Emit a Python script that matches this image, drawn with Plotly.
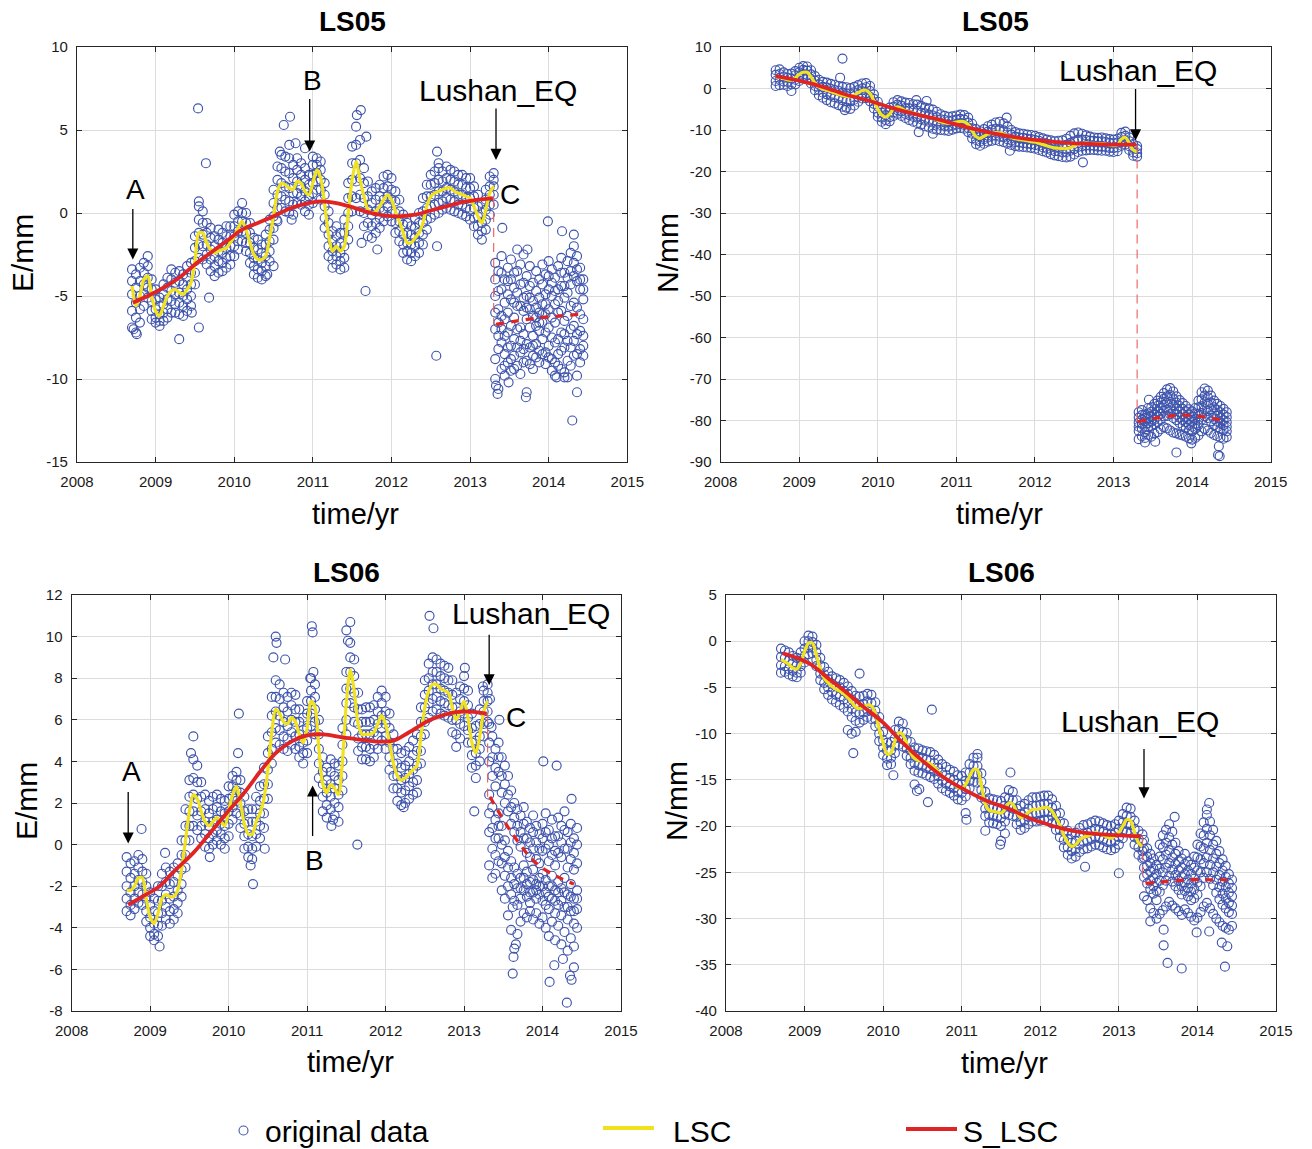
import plotly.graph_objects as go

W, H = 1312, 1149
FONT = "Liberation Sans, Arial, Helvetica, sans-serif"
BLUE = "rgb(62,84,172)"
YELLOW = "rgb(240,226,30)"
RED = "rgb(224,36,36)"
LIGHTRED = "rgba(236,96,96,0.95)"

# ---------------- shared epochs ----------------
t_pre = [2008.70, 2008.75, 2008.80, 2008.85, 2008.90, 2008.95, 2009.00, 2009.05, 2009.10, 2009.15,
         2009.20, 2009.25, 2009.30, 2009.35, 2009.40, 2009.45, 2009.50, 2009.55, 2009.60, 2009.65,
         2009.70, 2009.75, 2009.80, 2009.85, 2009.90, 2009.95, 2010.00, 2010.05, 2010.10, 2010.15,
         2010.20, 2010.25, 2010.30, 2010.35, 2010.40, 2010.45, 2010.50, 2010.55, 2010.60, 2010.65,
         2010.70, 2010.75, 2010.80, 2010.85, 2010.90, 2010.95, 2011.00, 2011.05, 2011.10, 2011.15,
         2011.20, 2011.25, 2011.30, 2011.35, 2011.40, 2011.45, 2011.50, 2011.55, 2011.60, 2011.65,
         2011.70, 2011.75, 2011.80, 2011.85, 2011.90, 2011.95, 2012.00, 2012.05, 2012.10, 2012.15,
         2012.20, 2012.25, 2012.30, 2012.35, 2012.40, 2012.45, 2012.50, 2012.55, 2012.60, 2012.65,
         2012.70, 2012.75, 2012.80, 2012.85, 2012.90, 2012.95, 2013.00, 2013.05, 2013.10, 2013.15,
         2013.20, 2013.25, 2013.30]
t_post = [2013.32, 2013.36, 2013.40, 2013.44, 2013.48, 2013.52, 2013.56, 2013.60, 2013.64, 2013.68,
          2013.72, 2013.76, 2013.80, 2013.84, 2013.88, 2013.92, 2013.96, 2014.00, 2014.04, 2014.08,
          2014.12, 2014.16, 2014.20, 2014.24, 2014.28, 2014.32, 2014.36, 2014.40, 2014.44]
t_eq = 2013.30
x_ticks = [2008, 2009, 2010, 2011, 2012, 2013, 2014, 2015]

# ---------------- LS05 E ----------------
e05_lsc = [-4.4, -5.6, -5.0, -4.0, -3.8, -5.0, -5.9, -6.2, -5.6, -5.0,
           -4.7, -4.6, -4.8, -4.9, -4.6, -4.2, -2.9, -1.2, -1.2, -1.8,
           -2.2, -2.4, -2.3, -2.2, -2.1, -1.8, -1.4, -0.9, -0.5, -1.0,
           -1.8, -2.5, -2.8, -2.8, -2.6, -1.5, -0.2, 1.3, 1.8, 1.7,
           1.5, 1.4, 1.9, 1.8, 1.3, 1.1, 1.8, 2.6, 2.1, 0.5,
           -1.3, -2.3, -2.0, -2.3, -2.0, 0.0, 2.0, 3.1, 2.0, 1.0,
           0.2, 0.0, 0.1, 0.4, 0.8, 1.1, 0.8, 0.1, -0.5, -1.2,
           -1.8, -1.8, -1.5, -1.2, -0.6, 0.4, 1.0, 1.2, 1.3, 1.4,
           1.5, 1.5, 1.3, 1.2, 1.1, 1.0, 0.9, 0.4, -0.2, -0.6,
           0.2, 1.2, 1.6]
e05_pre = [[-3.4, -4.1, -4.9, -5.9, -6.9], [-3.7, -4.5, -5.4, -6.3, -7.2], [-3.3, -4.1, -5.0, -5.8, -6.6],
           [-3.0, -3.6, -4.3, -4.9, -5.6], [-2.6, -3.2, -3.9, -4.5, -5.1], [-4.0, -4.6, -5.3, -5.9, -6.4],
           [-4.6, -5.2, -5.8, -6.3, -6.6], [-5.1, -5.6, -6.1, -6.5, -6.8], [-4.3, -4.9, -5.5, -6.0, -6.5],
           [-3.9, -4.5, -5.2, -5.8, -6.3], [-3.4, -4.0, -4.7, -5.3, -6.0], [-3.6, -4.2, -4.9, -5.5, -6.0],
           [-3.5, -4.1, -4.8, -5.4, -6.1], [-3.7, -4.3, -5.0, -5.6, -6.2], [-3.2, -3.9, -4.6, -5.2, -5.9],
           [-3.0, -3.6, -4.3, -5.0, -5.6], [-1.4, -2.1, -2.9, -3.6, -4.3], [0.4, -0.4, -1.2, -1.9, -2.7],
           [0.1, -0.6, -1.3, -2.0, -2.8], [-0.6, -1.2, -1.9, -2.5, -3.1], [-0.9, -1.5, -2.2, -2.8, -3.5],
           [-1.4, -2.0, -2.6, -3.2, -3.8], [-1.0, -1.6, -2.3, -2.9, -3.6], [-1.2, -1.8, -2.4, -3.0, -3.5],
           [-0.8, -1.4, -2.1, -2.7, -3.3], [-0.8, -1.4, -2.0, -2.6, -3.1], [-0.1, -0.8, -1.4, -2.0, -2.6],
           [0.1, -0.5, -1.1, -1.7, -2.2], [0.6, 0.0, -0.5, -1.1, -1.7], [0.0, -0.6, -1.2, -1.8, -2.3],
           [-0.6, -1.2, -1.8, -2.4, -3.0], [-1.5, -2.1, -2.7, -3.2, -3.7], [-1.6, -2.2, -2.8, -3.4, -3.9],
           [-1.9, -2.4, -3.0, -3.5, -4.0], [-1.3, -1.9, -2.6, -3.2, -3.8], [-0.4, -1.0, -1.7, -2.3, -2.9],
           [1.4, 0.6, -0.2, -0.9, -1.6], [2.8, 2.0, 1.1, 0.3, -0.5], [3.5, 2.7, 1.8, 1.0, 0.3],
           [3.4, 2.5, 1.6, 0.8, 0.1], [3.3, 2.4, 1.5, 0.7, 0.0], [2.9, 2.1, 1.2, 0.5, -0.1],
           [3.3, 2.6, 1.9, 1.2, 0.6], [3.0, 2.3, 1.6, 1.0, 0.5], [2.7, 2.0, 1.3, 0.7, 0.1],
           [2.3, 1.7, 1.0, 0.5, -0.1], [2.9, 2.3, 1.8, 1.2, 0.6], [3.3, 2.9, 2.4, 1.9, 1.4],
           [3.1, 2.6, 2.0, 1.4, 0.8], [1.8, 1.1, 0.4, -0.3, -0.9], [0.1, -0.6, -1.3, -2.0, -2.6],
           [-1.1, -1.7, -2.3, -2.8, -3.3], [-0.8, -1.4, -2.0, -2.6, -3.1], [-1.2, -1.8, -2.4, -2.9, -3.4],
           [-0.4, -1.2, -2.0, -2.7, -3.3], [1.8, 0.9, 0.0, -0.8, -1.6], [4.0, 3.0, 2.0, 1.0, 0.1],
           [5.2, 4.1, 3.0, 1.9, 0.9], [4.4, 3.2, 2.1, 1.1, 0.1], [2.7, 1.8, 0.9, 0.0, -0.8],
           [1.9, 1.0, 0.2, -0.6, -1.4], [1.3, 0.6, -0.1, -0.8, -1.5], [1.5, 0.8, 0.1, -0.6, -1.2],
           [1.7, 1.0, 0.3, -0.3, -0.9], [2.2, 1.5, 0.8, 0.1, -0.5], [2.3, 1.6, 1.0, 0.4, -0.2],
           [2.1, 1.4, 0.8, 0.1, -0.5], [1.3, 0.7, 0.0, -0.6, -1.2], [0.8, 0.1, -0.5, -1.1, -1.7],
           [-0.1, -0.7, -1.3, -1.9, -2.4], [-0.6, -1.2, -1.8, -2.3, -2.8], [-0.8, -1.3, -1.9, -2.4, -2.9],
           [-0.3, -0.9, -1.5, -2.0, -2.6], [0.0, -0.6, -1.2, -1.8, -2.4], [0.9, 0.1, -0.6, -1.3, -1.9],
           [1.7, 1.0, 0.3, -0.4, -1.0], [2.3, 1.7, 1.0, 0.4, -0.3], [2.5, 1.8, 1.1, 0.5, -0.1],
           [2.7, 2.0, 1.3, 0.6, 0.0], [2.5, 1.9, 1.3, 0.7, 0.2], [2.8, 2.1, 1.5, 0.9, 0.3],
           [2.6, 2.0, 1.4, 0.8, 0.2], [2.5, 1.9, 1.3, 0.7, 0.1], [2.3, 1.7, 1.1, 0.5, 0.0],
           [2.3, 1.7, 1.1, 0.5, -0.1], [2.1, 1.5, 0.9, 0.3, -0.2], [2.1, 1.5, 0.9, 0.2, -0.4],
           [1.6, 1.0, 0.3, -0.3, -0.8], [1.1, 0.4, -0.2, -0.8, -1.3], [0.6, 0.0, -0.6, -1.1, -1.6],
           [1.4, 0.8, 0.2, -0.4, -1.0], [2.2, 1.6, 1.1, 0.5, -0.1], [2.4, 2.0, 1.6, 1.1, 0.5]]
e05_post = [[-3.0, -4.0, -5.0, -6.0, -7.0, -8.8, -10.0], [-3.5, -4.7, -5.8, -6.6, -7.4, -8.2, -10.6],
            [-2.6, -3.6, -4.6, -6.2, -7.0, -7.8, -9.4], [-4.0, -5.4, -6.4, -7.4, -8.5, -9.2, -9.8],
            [-3.3, -4.1, -4.9, -6.0, -7.2, -8.1, -9.0], [-2.8, -4.0, -5.2, -6.8, -8.0, -8.8, -9.5],
            [-3.6, -4.5, -5.4, -6.3, -7.6, -8.6, -9.4], [-2.2, -3.5, -4.8, -5.6, -7.0, -8.1, -9.2],
            [-3.1, -4.3, -5.6, -6.9, -7.7, -8.4, -9.7], [-2.5, -4.2, -5.1, -5.9, -7.3, -8.2, -9.0],
            [-3.8, -5.0, -5.7, -6.4, -7.9, -8.9, -10.8], [-3.2, -4.4, -5.1, -5.8, -6.9, -8.1, -9.1],
            [-4.2, -5.3, -6.2, -7.4, -8.0, -8.6, -9.4], [-3.5, -4.7, -5.7, -6.3, -6.8, -7.9, -8.7],
            [-4.0, -5.1, -6.0, -6.6, -7.1, -8.3, -9.0], [-3.1, -4.3, -5.5, -6.1, -6.6, -7.6, -8.5],
            [-3.7, -4.9, -5.5, -6.1, -7.2, -8.4, -9.1], [-2.9, -3.8, -4.6, -5.8, -6.9, -8.0, -8.7],
            [-3.4, -4.2, -5.0, -6.3, -7.5, -8.8, -9.5], [-3.9, -4.7, -5.5, -6.6, -7.8, -9.0, -9.8],
            [-3.2, -4.6, -5.3, -6.0, -7.6, -8.5, -9.2], [-2.7, -3.6, -4.4, -5.9, -7.2, -8.3, -9.4],
            [-3.6, -4.4, -5.1, -6.5, -7.3, -8.1, -9.6], [-2.9, -3.9, -4.8, -6.2, -7.7, -8.9, -9.9],
            [-2.4, -3.5, -4.3, -5.6, -7.0, -8.1, -9.2], [-2.0, -3.0, -3.8, -5.4, -6.8, -7.7, -8.6],
            [-2.6, -3.4, -4.1, -5.7, -7.3, -8.5, -9.8], [-3.3, -4.0, -4.6, -6.1, -7.1, -8.2, -9.0],
            [-4.0, -4.6, -5.2, -6.4, -7.4, -8.0, -8.6]]
e05_out_t = [2008.72, 2008.76, 2009.30, 2009.46, 2009.55, 2009.68, 2009.54, 2009.64, 2009.55, 2010.63,
             2010.71, 2010.70, 2010.58, 2010.54, 2010.73, 2010.42, 2010.50, 2011.61, 2011.56, 2011.68,
             2012.58, 2012.60, 2011.62, 2011.82, 2011.67, 2012.58, 2012.57, 2010.90, 2010.78, 2011.00,
             2013.41, 2013.99, 2014.17, 2014.32, 2013.73, 2014.30, 2014.36, 2013.49, 2013.71, 2013.35,
             2013.33, 2014.10, 2014.20]
e05_out_v = [-7.0, -7.3, -7.6, -6.0, -6.9, -5.1, 6.3, 3.0, 0.7, 5.3,
             5.8, 4.1, 3.7, -0.4, -0.4, -3.7, -3.2, 6.2, 5.9, 4.6,
             3.7, 3.0, -1.8, -2.2, -4.7, -2.0, -8.6, 3.9, 4.2, 3.4,
             -0.9, -0.5, -1.1, -1.3, -2.2, -12.5, -10.8, -10.2, -11.1, -10.9,
             -10.4, -9.9, -9.9]
e05_slsc_t = [2008.71, 2008.90, 2009.10, 2009.30, 2009.50, 2009.70, 2009.90, 2010.10, 2010.30, 2010.50,
              2010.70, 2010.90, 2011.10, 2011.30, 2011.50, 2011.70, 2011.90, 2012.10, 2012.30, 2012.50,
              2012.70, 2012.90, 2013.10, 2013.29]
e05_slsc_v = [-5.4, -5.0, -4.5, -3.9, -3.1, -2.4, -1.7, -1.0, -0.6, -0.2,
              0.25, 0.55, 0.7, 0.6, 0.35, 0.05, -0.15, -0.2, -0.1, 0.15,
              0.4, 0.65, 0.8, 0.9]
e05_spost_t = [2013.33, 2013.60, 2013.90, 2014.15, 2014.40]
e05_spost_v = [-6.7, -6.5, -6.3, -6.2, -6.1]
e05_yticks = [-15, -10, -5, 0, 5, 10]

# ---------------- LS05 N ----------------
n05_lsc = [2.8, 2.7, 2.4, 2.1, 2.0, 2.6, 3.4, 3.9, 3.9, 2.8,
           1.3, 0.4, -0.1, -0.4, -0.7, -1.1, -1.4, -1.7, -1.9, -2.0,
           -1.6, -1.0, -0.5, -0.4, -1.2, -3.0, -5.0, -6.4, -6.9, -6.2,
           -4.9, -4.4, -4.8, -5.3, -5.6, -5.9, -6.2, -6.5, -6.8, -7.0,
           -7.2, -7.6, -8.0, -8.3, -8.4, -8.3, -8.1, -7.9, -8.0, -8.7,
           -10.2, -11.6, -12.0, -11.5, -11.0, -10.7, -10.6, -10.7, -10.9, -11.3,
           -11.8, -12.1, -12.3, -12.4, -12.6, -12.8, -12.9, -13.2, -13.5, -13.8,
           -14.1, -14.3, -14.4, -14.5, -14.5, -14.3, -13.8, -13.4, -13.2, -13.1,
           -13.2, -13.2, -13.3, -13.3, -13.4, -13.6, -13.8, -13.6, -12.2, -11.8,
           -13.2, -14.8, -15.3]
n05_pre = [[4.4, 3.3, 1.8, 0.6], [4.6, 3.5, 2.1, 0.8], [3.9, 2.9, 1.7, 0.9], [3.5, 2.6, 1.6, 0.6],
           [3.6, 2.4, 1.0, -0.6], [4.2, 3.2, 2.1, 1.0], [5.0, 3.9, 2.8, 1.8], [5.4, 4.5, 3.4, 2.4],
           [5.3, 4.3, 3.2, 2.3], [4.4, 3.4, 2.2, 1.2], [3.0, 1.9, 0.6, -0.4], [2.1, 1.0, -0.3, -1.6],
           [1.6, 0.4, -1.0, -2.2], [1.4, 0.2, -1.4, -2.8], [1.1, -0.1, -1.7, -3.3], [0.9, -0.4, -2.1, -3.6],
           [0.6, -0.6, -2.4, -4.0], [0.4, -1.0, -2.8, -4.4], [0.3, -1.2, -3.0, -4.6], [0.1, -1.2, -3.1, -4.9],
           [0.4, -0.9, -2.7, -4.1], [0.8, -0.4, -2.0, -3.2], [1.2, 0.0, -1.4, -2.4], [1.3, 0.3, -1.1, -2.3],
           [0.6, -0.6, -2.0, -3.1], [-1.4, -2.5, -3.7, -4.8], [-3.2, -4.4, -5.8, -6.8], [-4.8, -5.8, -7.0, -8.0],
           [-5.2, -6.4, -7.6, -8.6], [-4.6, -5.6, -6.9, -7.9], [-3.3, -4.4, -5.7, -6.6], [-2.8, -3.9, -5.2, -6.1],
           [-3.1, -4.2, -5.5, -6.6], [-3.4, -4.7, -6.1, -7.1], [-3.5, -4.8, -6.4, -7.6], [-3.8, -5.2, -6.8, -8.0],
           [-3.9, -5.4, -7.0, -8.3], [-4.2, -5.8, -7.4, -8.7], [-4.6, -6.0, -7.7, -9.1], [-4.8, -6.3, -8.0, -9.4],
           [-5.1, -6.5, -8.2, -9.7], [-5.6, -6.9, -8.5, -9.9], [-6.2, -7.4, -8.8, -10.0], [-6.6, -7.6, -9.0, -10.1],
           [-6.8, -7.9, -9.2, -10.2], [-6.7, -7.7, -8.9, -9.9], [-6.5, -7.5, -8.7, -9.6], [-6.3, -7.3, -8.5, -9.5],
           [-6.4, -7.5, -8.8, -9.7], [-7.0, -8.2, -9.5, -10.5], [-8.5, -9.6, -10.9, -12.0], [-9.8, -11.0, -12.4, -13.4],
           [-10.3, -11.5, -12.8, -13.8], [-9.8, -10.9, -12.2, -13.3], [-9.1, -10.4, -11.8, -12.8], [-8.7, -9.9, -11.4, -12.6],
           [-8.2, -9.7, -11.3, -12.4], [-8.0, -9.8, -11.6, -12.7], [-8.4, -10.1, -11.7, -12.9], [-9.2, -10.6, -12.2, -13.3],
           [-10.0, -11.1, -12.5, -13.6], [-10.5, -11.6, -12.9, -13.9], [-10.8, -11.8, -13.0, -14.0], [-10.9, -11.9, -13.2, -14.1],
           [-11.1, -12.1, -13.3, -14.2], [-11.2, -12.2, -13.4, -14.3], [-11.4, -12.4, -13.6, -14.5], [-11.7, -12.6, -13.8, -14.8],
           [-12.0, -13.0, -14.2, -15.1], [-12.3, -13.3, -14.5, -15.4], [-12.5, -13.5, -14.8, -15.8], [-12.7, -13.8, -15.1, -16.1],
           [-12.6, -13.7, -15.1, -16.3], [-12.5, -13.9, -15.4, -16.5], [-12.1, -13.6, -15.3, -16.6], [-11.4, -13.1, -15.0, -16.4],
           [-10.8, -12.7, -14.6, -15.9], [-10.6, -12.3, -14.1, -15.3], [-10.9, -12.3, -13.9, -15.0], [-11.3, -12.4, -13.7, -14.9],
           [-11.6, -12.6, -13.8, -14.8], [-11.8, -12.6, -13.8, -14.8], [-11.9, -12.8, -14.0, -14.9], [-11.8, -12.7, -14.0, -15.0],
           [-12.0, -12.9, -14.1, -15.0], [-12.2, -13.1, -14.3, -15.2], [-12.3, -13.2, -14.4, -15.3], [-12.1, -13.0, -14.2, -15.1],
           [-10.7, -11.7, -12.9, -13.8], [-10.4, -11.4, -12.6, -13.5], [-11.8, -12.7, -13.9, -14.8], [-13.4, -14.3, -15.4, -16.2],
           [-13.9, -14.6, -15.6, -16.4]]
n05_post = [[-78.0, -79.3, -80.5, -81.5, -82.5, -84.5], [-77.5, -78.7, -79.8, -80.9, -81.9, -83.8],
            [-78.6, -79.4, -80.2, -81.5, -82.8, -84.2], [-77.0, -78.3, -79.5, -80.6, -81.6, -83.5],
            [-76.8, -77.9, -79.0, -80.2, -81.3, -83.9], [-76.0, -77.3, -78.6, -79.8, -80.9, -83.2],
            [-75.2, -76.5, -77.8, -79.1, -80.4, -82.8], [-74.3, -75.7, -77.0, -78.4, -79.8, -82.1],
            [-73.4, -74.8, -76.2, -77.6, -79.0, -81.6], [-72.5, -74.2, -75.8, -77.4, -78.9, -81.9],
            [-72.2, -73.9, -75.5, -77.0, -78.5, -82.4], [-73.0, -74.7, -76.3, -77.9, -79.4, -82.9],
            [-74.2, -75.7, -77.2, -78.6, -79.9, -83.1], [-75.1, -76.5, -77.9, -79.3, -80.6, -83.4],
            [-75.8, -77.2, -78.5, -79.9, -81.2, -83.6], [-76.5, -77.8, -79.1, -80.4, -81.7, -83.9],
            [-77.3, -78.6, -79.8, -81.1, -82.3, -84.3], [-77.8, -79.1, -80.3, -81.5, -82.6, -84.6],
            [-77.0, -78.3, -79.6, -80.8, -82.0, -84.2], [-75.2, -76.8, -78.4, -79.8, -81.1, -83.6],
            [-73.2, -74.9, -76.6, -78.2, -79.8, -82.6], [-72.3, -74.0, -75.6, -77.3, -79.0, -82.0],
            [-72.8, -74.4, -76.0, -77.7, -79.4, -82.4], [-74.0, -75.7, -77.3, -78.8, -80.2, -83.0],
            [-75.2, -76.8, -78.3, -79.7, -81.1, -83.5], [-76.0, -77.5, -78.9, -80.3, -81.6, -83.8],
            [-76.5, -78.0, -79.4, -80.7, -82.0, -84.1], [-77.2, -78.6, -79.9, -81.1, -82.3, -84.4],
            [-78.0, -79.2, -80.4, -81.5, -82.6, -84.0]]
n05_out_t = [2009.55, 2009.52, 2010.70, 2010.49, 2011.68, 2012.61, 2011.64, 2010.62, 2010.52, 2009.58,
             2013.80, 2014.33, 2014.35, 2014.34, 2013.99, 2013.53, 2013.40, 2013.45]
n05_out_v = [7.2, 2.6, -10.9, -2.8, -15.0, -17.8, -7.0, -3.0, -10.5, -5.2,
             -87.7, -88.3, -88.6, -86.2, -85.5, -85.1, -85.3, -75.0]
n05_slsc_t = [2008.70, 2009.00, 2009.30, 2009.60, 2009.90, 2010.20, 2010.50, 2010.80, 2011.10, 2011.40,
              2011.70, 2012.00, 2012.30, 2012.60, 2012.90, 2013.29]
n05_slsc_v = [3.0, 1.9, 0.4, -1.5, -3.0, -4.8, -6.3, -7.6, -9.2, -10.5,
              -11.6, -12.4, -13.0, -13.3, -13.5, -13.5]
n05_spost_t = [2013.31, 2013.55, 2013.85, 2014.10, 2014.40]
n05_spost_v = [-80.3, -79.4, -78.7, -79.0, -80.0]
n05_yticks = [-90, -80, -70, -60, -50, -40, -30, -20, -10, 0, 10]

# ---------------- LS06 E ----------------
e06_lsc = [-2.2, -2.2, -2.0, -1.6, -1.6, -2.6, -3.5, -3.8, -3.3, -2.6,
           -2.4, -2.5, -2.5, -2.2, -1.2, 0.2, 1.6, 2.4, 2.2, 1.6,
           1.1, 0.9, 1.1, 1.3, 1.1, 0.9, 1.6, 2.4, 2.8, 2.0,
           1.0, 0.5, 0.5, 1.1, 1.5, 2.2, 3.6, 5.4, 6.5, 6.3,
           5.9, 5.8, 6.1, 5.9, 5.3, 4.9, 5.6, 6.9, 6.6, 4.6,
           2.9, 2.5, 2.9, 2.7, 2.4, 4.0, 6.8, 8.4, 7.4, 5.8,
           5.3, 5.3, 5.3, 5.4, 5.8, 6.2, 5.8, 4.9, 3.9, 3.3,
           3.1, 3.2, 3.4, 3.6, 3.8, 5.2, 6.6, 7.4, 7.7, 7.7,
           7.5, 7.4, 7.3, 6.6, 6.0, 6.4, 6.9, 6.1, 4.9, 4.4,
           5.2, 6.4, 6.9]
e06_pre = [[-0.6, -1.3, -2.0, -2.6, -3.2], [-0.9, -1.6, -2.3, -2.9, -3.4], [-0.8, -1.4, -2.0, -2.6, -3.1],
           [-0.5, -1.1, -1.7, -2.3, -2.8], [-0.7, -1.3, -1.8, -2.4, -2.9], [-1.4, -2.0, -2.6, -3.2, -3.7],
           [-2.3, -2.9, -3.5, -4.0, -4.4], [-2.6, -3.2, -3.8, -4.3, -4.6], [-2.0, -2.7, -3.3, -3.9, -4.4],
           [-1.4, -2.0, -2.7, -3.3, -3.9], [-1.1, -1.8, -2.4, -3.0, -3.6], [-1.3, -1.9, -2.6, -3.2, -3.8],
           [-1.1, -1.8, -2.5, -3.1, -3.6], [-0.9, -1.5, -2.2, -2.8, -3.3], [0.2, -0.5, -1.2, -1.9, -2.5],
           [1.7, 0.9, 0.2, -0.5, -1.1], [3.1, 2.3, 1.6, 0.9, 0.2], [4.1, 3.2, 2.4, 1.6, 0.9],
           [3.8, 3.0, 2.2, 1.4, 0.7], [3.0, 2.3, 1.6, 0.9, 0.3], [2.4, 1.7, 1.1, 0.5, -0.1],
           [2.1, 1.5, 0.9, 0.3, -0.2], [2.3, 1.7, 1.1, 0.5, 0.0], [2.4, 1.8, 1.2, 0.7, 0.2],
           [2.2, 1.6, 1.0, 0.5, 0.0], [2.1, 1.5, 0.9, 0.3, -0.2], [2.8, 2.2, 1.6, 1.0, 0.4],
           [3.3, 2.8, 2.3, 1.8, 1.2], [3.5, 3.1, 2.6, 2.1, 1.5], [3.1, 2.5, 2.0, 1.4, 0.8],
           [2.3, 1.6, 1.0, 0.4, -0.2], [1.7, 1.1, 0.5, -0.1, -0.6], [1.7, 1.1, 0.4, -0.2, -0.7],
           [2.3, 1.7, 1.1, 0.5, -0.1], [2.8, 2.1, 1.5, 0.9, 0.3], [3.7, 2.9, 2.2, 1.5, 0.8],
           [5.2, 4.4, 3.6, 2.9, 2.2], [7.1, 6.2, 5.4, 4.6, 3.9], [7.9, 7.1, 6.4, 5.6, 4.9],
           [7.7, 7.0, 6.2, 5.5, 4.8], [7.3, 6.6, 5.9, 5.2, 4.6], [7.1, 6.4, 5.7, 5.1, 4.5],
           [7.3, 6.7, 6.0, 5.4, 4.8], [7.2, 6.5, 5.9, 5.2, 4.6], [6.5, 5.9, 5.3, 4.7, 4.2],
           [6.1, 5.5, 4.9, 4.4, 3.9], [6.9, 6.3, 5.6, 5.0, 4.4], [8.0, 7.4, 6.9, 6.3, 5.7],
           [7.7, 7.1, 6.5, 5.9, 5.3], [6.0, 5.3, 4.6, 3.9, 3.2], [4.2, 3.5, 2.9, 2.3, 1.6],
           [3.7, 3.1, 2.5, 1.9, 1.3], [4.1, 3.5, 2.9, 2.3, 1.7], [3.9, 3.3, 2.7, 2.0, 1.4],
           [3.8, 3.1, 2.4, 1.8, 1.1], [5.6, 4.8, 4.0, 3.3, 2.6], [8.3, 7.5, 6.8, 6.0, 5.3],
           [9.7, 9.0, 8.3, 7.5, 6.8], [8.9, 8.1, 7.3, 6.6, 5.9], [7.3, 6.5, 5.8, 5.1, 4.5],
           [6.5, 5.9, 5.3, 4.7, 4.1], [6.6, 5.9, 5.3, 4.7, 4.1], [6.6, 5.9, 5.3, 4.6, 4.0],
           [6.7, 6.0, 5.4, 4.8, 4.2], [7.1, 6.4, 5.8, 5.2, 4.6], [7.4, 6.8, 6.2, 5.6, 5.0],
           [7.1, 6.4, 5.8, 5.2, 4.6], [6.3, 5.6, 4.9, 4.2, 3.6], [5.3, 4.6, 3.9, 3.3, 2.7],
           [4.6, 3.9, 3.3, 2.7, 2.1], [4.4, 3.7, 3.1, 2.5, 1.9], [4.5, 3.8, 3.2, 2.6, 2.0],
           [4.7, 4.0, 3.4, 2.8, 2.2], [5.0, 4.3, 3.6, 3.0, 2.4], [5.3, 4.5, 3.8, 3.1, 2.5],
           [6.6, 5.9, 5.2, 4.5, 3.9], [7.9, 7.2, 6.6, 5.9, 5.3], [8.7, 8.0, 7.4, 6.8, 6.1],
           [9.0, 8.3, 7.7, 7.0, 6.4], [8.9, 8.3, 7.7, 7.1, 6.5], [8.7, 8.1, 7.5, 6.9, 6.3],
           [8.6, 8.0, 7.4, 6.8, 6.2], [8.5, 7.9, 7.3, 6.7, 6.1], [7.9, 7.2, 6.6, 6.0, 5.4],
           [7.3, 6.6, 6.0, 5.3, 4.7], [7.6, 7.0, 6.4, 5.8, 5.1], [8.1, 7.5, 6.9, 6.3, 5.7],
           [7.4, 6.7, 6.1, 5.5, 4.9], [6.3, 5.6, 4.9, 4.3, 3.7], [5.7, 5.0, 4.4, 3.8, 3.2],
           [6.5, 5.8, 5.2, 4.6, 4.0], [7.4, 6.9, 6.4, 5.8, 5.2], [7.7, 7.3, 6.9, 6.4, 5.9]]
e06_post = [[5.8, 4.9, 4.0, 2.4, 1.5, 0.6, -1.0], [5.2, 4.2, 3.3, 1.8, 0.8, -0.2, -1.6],
            [4.6, 3.7, 2.8, 1.2, 0.3, -0.5, -1.4], [4.9, 4.2, 3.5, 1.5, 0.9, 0.3, -0.8],
            [4.2, 3.3, 2.5, 0.9, 0.0, -0.9, -2.2], [3.8, 2.9, 2.0, 0.2, -0.6, -1.5, -2.6],
            [3.3, 2.4, 1.6, -0.3, -1.1, -2.0, -3.4], [2.6, 1.8, 1.0, -0.8, -1.6, -2.4, -4.1],
            [2.0, 1.3, 0.6, -1.1, -1.9, -2.7, -5.0], [1.7, 0.9, 0.2, -1.4, -2.1, -2.9, -4.3],
            [1.4, 0.6, -0.1, -1.6, -2.1, -2.6, -3.7], [1.8, 1.0, 0.3, -1.0, -1.6, -2.2, -3.3],
            [1.1, 0.3, -0.4, -1.3, -1.9, -2.5, -3.5], [0.8, 0.1, -0.6, -1.8, -2.3, -2.8, -3.2],
            [1.4, 0.6, -0.2, -1.2, -1.7, -2.3, -3.6], [0.9, 0.1, -0.7, -1.9, -2.2, -2.6, -3.3],
            [0.5, -0.2, -0.9, -1.6, -2.0, -2.4, -3.8], [1.0, 0.3, -0.3, -1.4, -2.0, -2.7, -3.5],
            [1.5, 0.6, -0.2, -1.7, -2.3, -2.9, -4.0], [0.7, 0.0, -0.8, -2.0, -2.5, -3.1, -4.4],
            [1.2, 0.3, -0.5, -1.5, -2.0, -2.6, -3.7], [0.4, -0.3, -1.0, -2.2, -2.7, -3.3, -4.6],
            [1.3, 0.4, -0.4, -1.8, -2.3, -2.9, -3.9], [0.9, 0.1, -0.6, -2.1, -2.7, -3.4, -4.8],
            [1.6, 0.7, -0.2, -1.6, -2.3, -3.0, -4.2], [0.6, -0.2, -1.1, -2.4, -3.0, -3.6, -5.1],
            [1.0, 0.1, -0.7, -1.9, -2.5, -3.2, -4.5], [0.3, -0.4, -1.2, -2.6, -3.2, -3.8, -4.9],
            [0.8, 0.0, -0.9, -2.2, -2.6, -3.1, -4.0]]
e06_out_t = [2008.89, 2009.12, 2009.55, 2009.52, 2010.13, 2010.12, 2010.31, 2010.60, 2010.61, 2010.57,
             2010.72, 2011.06, 2011.07, 2011.55, 2011.50, 2011.52, 2011.64, 2011.31, 2011.33, 2009.19,
             2009.76, 2010.46, 2012.56, 2012.61, 2013.01, 2013.24, 2013.13, 2012.23, 2010.28, 2011.08,
             2011.04, 2013.33, 2013.35, 2013.45, 2013.62, 2013.63, 2013.62, 2014.01, 2014.18, 2014.31,
             2014.09, 2014.37, 2014.37, 2014.15, 2013.66, 2014.26, 2014.40, 2014.35]
e06_out_v = [0.75, -4.9, 5.2, 4.4, 6.3, 4.4, -1.9, 10.0, 9.7, 9.0,
             8.9, 10.5, 10.2, 10.7, 10.3, 9.8, 0.0, 0.9, 1.2, -0.4,
             -0.6, -0.2, 11.0, 10.4, 8.5, 7.6, 1.6, 1.8, -1.0, 8.3,
             8.0, 7.0, 5.65, 6.0, -3.0, -5.4, -6.2, 4.0, 3.8, -7.6,
             -6.6, -6.5, 2.2, -5.8, -4.8, -5.5, -5.9, -6.3]
e06_slsc_t = [2008.72, 2008.90, 2009.12, 2009.30, 2009.55, 2009.75, 2009.97, 2010.20, 2010.40, 2010.60,
              2010.82, 2011.00, 2011.21, 2011.45, 2011.67, 2011.93, 2012.10, 2012.30, 2012.57, 2012.80,
              2012.99, 2013.29]
e06_slsc_v = [-2.9, -2.5, -2.0, -1.3, -0.4, 0.5, 1.5, 2.5, 3.5, 4.4,
              5.0, 5.25, 5.3, 5.15, 5.05, 4.95, 5.0, 5.4, 6.0, 6.3,
              6.4, 6.3]
e06_spost_t = [2013.33, 2013.62, 2013.92, 2014.22, 2014.40]
e06_spost_v = [2.3, 0.5, -0.9, -1.6, -1.9]
e06_yticks = [-8, -6, -4, -2, 0, 2, 4, 6, 8, 10, 12]

# ---------------- LS06 N ----------------
n06_lsc = [-2.0, -2.2, -2.5, -2.9, -3.0, -2.4, -1.1, -0.2, -0.2, -1.5,
           -3.0, -4.0, -4.5, -4.9, -5.2, -5.4, -5.7, -6.1, -6.6, -7.1,
           -7.3, -7.1, -6.9, -7.0, -7.8, -9.5, -11.0, -12.2, -12.1, -10.8,
           -9.9, -10.1, -11.1, -12.1, -12.7, -12.9, -13.0, -13.1, -13.3, -13.6,
           -14.1, -14.6, -14.9, -15.1, -15.4, -15.8, -15.9, -15.5, -14.6, -13.9,
           -13.9, -15.6, -17.6, -18.3, -18.4, -18.5, -18.6, -18.2, -17.5, -17.6,
           -18.5, -19.1, -18.9, -18.5, -18.2, -18.2, -18.1, -18.0, -18.0, -18.4,
           -19.1, -19.9, -21.0, -21.8, -22.2, -22.0, -21.5, -21.2, -21.1, -20.9,
           -20.7, -20.8, -21.0, -21.2, -21.3, -21.1, -20.7, -20.0, -19.3, -19.4,
           -20.7, -21.8, -22.2]
n06_pre = [[-0.8, -1.7, -2.6, -3.4], [-1.0, -1.8, -2.7, -3.3], [-1.2, -2.1, -3.0, -3.6], [-1.6, -2.4, -3.2, -3.8],
           [-1.8, -2.6, -3.4, -3.9], [-1.2, -1.9, -2.7, -3.4], [0.0, -0.8, -1.6, -2.3], [0.6, 0.0, -0.7, -1.4],
           [0.5, -0.1, -0.7, -1.3], [-0.4, -1.2, -2.0, -2.7], [-1.8, -2.6, -3.5, -4.2], [-2.8, -3.6, -4.5, -5.2],
           [-3.3, -4.1, -5.0, -5.8], [-3.8, -4.6, -5.5, -6.3], [-4.0, -4.9, -5.8, -6.6], [-4.2, -5.0, -6.0, -6.9],
           [-4.5, -5.4, -6.3, -7.2], [-4.9, -5.7, -6.7, -7.6], [-5.4, -6.3, -7.3, -8.2], [-5.9, -6.7, -7.7, -8.6],
           [-6.0, -6.9, -7.9, -8.8], [-5.9, -6.8, -7.7, -8.5], [-5.7, -6.5, -7.4, -8.2], [-5.8, -6.7, -7.6, -8.4],
           [-6.6, -7.5, -8.4, -9.2], [-8.2, -9.0, -10.0, -10.8], [-9.8, -10.7, -11.5, -12.3], [-11.0, -11.8, -12.7, -13.4],
           [-10.9, -11.8, -12.6, -13.3], [-9.6, -10.5, -11.3, -12.1], [-8.7, -9.5, -10.4, -11.2], [-8.9, -9.8, -10.6, -11.4],
           [-9.9, -10.7, -11.6, -12.4], [-10.9, -11.8, -12.6, -13.3], [-11.5, -12.3, -13.2, -14.0], [-11.6, -12.5, -13.4, -14.2],
           [-11.8, -12.6, -13.5, -14.3], [-11.9, -12.8, -13.7, -14.5], [-12.0, -12.9, -13.8, -14.7], [-12.3, -13.2, -14.1, -14.9],
           [-12.8, -13.7, -14.6, -15.4], [-13.3, -14.2, -15.1, -15.9], [-13.6, -14.5, -15.4, -16.2], [-13.9, -14.8, -15.7, -16.4],
           [-14.1, -15.0, -15.9, -16.7], [-14.5, -15.4, -16.3, -17.1], [-14.6, -15.5, -16.4, -17.2], [-14.2, -15.1, -16.0, -16.8],
           [-13.3, -14.2, -15.1, -15.9], [-12.6, -13.5, -14.4, -15.2], [-12.6, -13.5, -14.4, -15.3], [-14.3, -15.2, -16.1, -16.9],
           [-16.3, -17.2, -18.1, -18.9], [-17.0, -17.9, -18.8, -19.6], [-17.1, -18.0, -18.9, -19.7], [-17.2, -18.1, -19.0, -19.8],
           [-17.3, -18.2, -19.1, -20.0], [-16.9, -17.8, -18.7, -19.5], [-16.1, -17.0, -17.9, -18.8], [-16.3, -17.2, -18.1, -18.9],
           [-17.2, -18.1, -19.0, -19.8], [-17.8, -18.7, -19.6, -20.4], [-17.6, -18.5, -19.4, -20.2], [-17.2, -18.1, -19.0, -19.8],
           [-16.9, -17.8, -18.7, -19.5], [-16.9, -17.8, -18.7, -19.5], [-16.8, -17.7, -18.6, -19.4], [-16.7, -17.6, -18.5, -19.3],
           [-16.7, -17.6, -18.5, -19.3], [-17.1, -18.0, -18.9, -19.7], [-17.8, -18.7, -19.6, -20.4], [-18.6, -19.5, -20.4, -21.2],
           [-19.7, -20.6, -21.5, -22.3], [-20.5, -21.4, -22.3, -23.1], [-20.9, -21.8, -22.7, -23.5], [-20.7, -21.6, -22.5, -23.3],
           [-20.2, -21.1, -22.0, -22.8], [-19.9, -20.8, -21.7, -22.5], [-19.8, -20.7, -21.6, -22.4], [-19.6, -20.5, -21.4, -22.2],
           [-19.4, -20.3, -21.2, -22.0], [-19.5, -20.4, -21.3, -22.1], [-19.7, -20.6, -21.5, -22.3], [-19.9, -20.8, -21.7, -22.5],
           [-20.0, -20.9, -21.8, -22.6], [-19.8, -20.7, -21.6, -22.4], [-19.4, -20.3, -21.2, -22.0], [-18.7, -19.6, -20.5, -21.3],
           [-18.0, -18.9, -19.8, -20.6], [-18.1, -19.0, -19.9, -20.7], [-19.4, -20.3, -21.2, -22.0], [-20.5, -21.4, -22.3, -23.1],
           [-20.9, -21.8, -22.7, -23.5]]
n06_post = [[-21.5, -22.5, -23.4, -24.5, -25.5, -27.6], [-22.4, -23.3, -24.3, -25.2, -26.2, -28.0],
            [-23.0, -24.0, -24.9, -25.9, -26.8, -28.9], [-23.5, -24.6, -25.6, -26.5, -27.3, -29.4],
            [-24.2, -25.2, -26.1, -27.0, -28.0, -30.0], [-22.0, -23.3, -24.6, -25.9, -27.1, -29.5],
            [-21.0, -22.3, -23.6, -25.0, -26.4, -29.1], [-20.4, -21.8, -23.1, -24.5, -25.9, -28.7],
            [-19.8, -21.2, -22.6, -24.0, -25.4, -28.2], [-20.6, -22.0, -23.4, -24.7, -26.0, -28.6],
            [-21.8, -23.0, -24.1, -25.3, -26.5, -28.9], [-22.7, -23.8, -24.8, -25.9, -26.9, -29.2],
            [-23.5, -24.5, -25.5, -26.5, -27.4, -29.6], [-23.0, -24.1, -25.2, -26.1, -27.0, -29.0],
            [-23.8, -24.8, -25.8, -26.7, -27.6, -29.4], [-24.2, -25.2, -26.2, -27.1, -28.0, -29.8],
            [-23.3, -24.5, -25.7, -26.8, -27.8, -30.2], [-22.0, -23.4, -24.8, -26.1, -27.4, -29.9],
            [-20.8, -22.2, -23.6, -25.0, -26.5, -29.3], [-19.6, -21.0, -22.4, -24.0, -25.6, -28.7],
            [-18.8, -20.3, -21.8, -23.4, -25.0, -28.3], [-19.5, -21.0, -22.6, -24.2, -25.7, -28.9],
            [-20.4, -22.0, -23.5, -25.0, -26.4, -29.5], [-21.6, -23.0, -24.4, -25.8, -27.2, -30.0],
            [-22.7, -24.0, -25.3, -26.6, -27.9, -30.4], [-23.6, -24.8, -26.0, -27.3, -28.5, -30.8],
            [-24.3, -25.5, -26.6, -27.8, -28.9, -31.0], [-25.2, -26.2, -27.2, -28.3, -29.3, -31.2],
            [-25.8, -26.7, -27.6, -28.6, -29.5, -30.8]]
n06_out_t = [2010.62, 2009.62, 2010.13, 2010.46, 2010.57, 2011.06, 2011.05, 2011.49, 2011.50, 2012.57,
             2013.00, 2009.70, 2011.20, 2011.62, 2009.55, 2009.60, 2009.65, 2010.40, 2010.43, 2011.30,
             2011.55, 2013.57, 2013.62, 2013.80, 2013.57, 2014.35, 2014.31, 2013.99, 2014.15, 2014.15,
             2014.12, 2013.71, 2013.40, 2014.38]
n06_out_v = [-7.4, -12.1, -14.5, -16.0, -17.4, -19.3, -18.6, -22.0, -21.6, -24.4,
             -25.1, -3.5, -12.2, -14.2, -9.6, -10.0, -9.8, -15.5, -16.2, -20.5,
             -20.8, -31.2, -34.8, -35.4, -32.9, -35.2, -32.6, -31.5, -31.4, -17.5,
             -18.2, -19.0, -30.3, -33.0]
n06_slsc_t = [2008.72, 2008.90, 2009.08, 2009.30, 2009.54, 2009.75, 2010.00, 2010.25, 2010.51, 2010.75,
              2011.00, 2011.30, 2011.62, 2011.85, 2012.09, 2012.30, 2012.55, 2012.80, 2013.01, 2013.28]
n06_slsc_v = [-1.3, -1.8, -2.5, -4.0, -5.6, -7.1, -8.8, -11.0, -13.0, -14.6,
              -15.9, -17.2, -18.2, -19.1, -19.8, -20.3, -20.7, -20.9, -21.0, -21.1]
n06_spost_t = [2013.34, 2013.60, 2013.89, 2014.15, 2014.38]
n06_spost_v = [-26.2, -26.0, -25.8, -25.8, -25.8]
n06_yticks = [-40, -35, -30, -25, -20, -15, -10, -5, 0, 5]

# ---------------- panels ----------------
panels = [
    dict(ax="1", lsc=e05_lsc, pre=e05_pre, post=e05_post, ot=e05_out_t, ov=e05_out_v,
         st=e05_slsc_t, sv=e05_slsc_v, pt=e05_spost_t, pv=e05_spost_v, yt=e05_yticks,
         xdom=(77, 627.3), ydom=(47, 462)),
    dict(ax="2", lsc=n05_lsc, pre=n05_pre, post=n05_post, ot=n05_out_t, ov=n05_out_v,
         st=n05_slsc_t, sv=n05_slsc_v, pt=n05_spost_t, pv=n05_spost_v, yt=n05_yticks,
         xdom=(720.7, 1270.7), ydom=(47, 462)),
    dict(ax="3", lsc=e06_lsc, pre=e06_pre, post=e06_post, ot=e06_out_t, ov=e06_out_v,
         st=e06_slsc_t, sv=e06_slsc_v, pt=e06_spost_t, pv=e06_spost_v, yt=e06_yticks,
         xdom=(71.7, 621), ydom=(595, 1011)),
    dict(ax="4", lsc=n06_lsc, pre=n06_pre, post=n06_post, ot=n06_out_t, ov=n06_out_v,
         st=n06_slsc_t, sv=n06_slsc_v, pt=n06_spost_t, pv=n06_spost_v, yt=n06_yticks,
         xdom=(726, 1276), ydom=(595, 1011)),
]

fig = go.Figure()
layout = dict(width=W, height=H, margin=dict(l=0, r=0, t=0, b=0, autoexpand=False),
              paper_bgcolor="white", plot_bgcolor="white", showlegend=False,
              font=dict(family=FONT, color="black"))

for p in panels:
    xa = "x" + ("" if p["ax"] == "1" else p["ax"])
    ya = "y" + ("" if p["ax"] == "1" else p["ax"])
    xs, ys = [], []
    for t, row in zip(t_pre, p["pre"]):
        for v in row:
            xs.append(t); ys.append(v)
    for t, row in zip(t_post, p["post"]):
        for v in row:
            xs.append(t); ys.append(v)
    xs += p["ot"]; ys += p["ov"]
    fig.add_trace(go.Scatter(x=xs, y=ys, mode="markers", xaxis=xa, yaxis=ya,
                             marker=dict(symbol="circle-open", size=9, color=BLUE,
                                         line=dict(width=1.15, color=BLUE))))
    fig.add_trace(go.Scatter(x=t_pre, y=p["lsc"], mode="lines", xaxis=xa, yaxis=ya,
                             line=dict(color=YELLOW, width=3.2, shape="spline", smoothing=0.8)))
    fig.add_trace(go.Scatter(x=p["st"], y=p["sv"], mode="lines", xaxis=xa, yaxis=ya,
                             line=dict(color=RED, width=3.8, shape="spline", smoothing=1.0)))
    fig.add_trace(go.Scatter(x=[t_eq, t_eq], y=[p["sv"][-1], p["pv"][0]], mode="lines",
                             xaxis=xa, yaxis=ya,
                             line=dict(color=LIGHTRED, width=1.2, dash="9px,6px")))
    fig.add_trace(go.Scatter(x=p["pt"], y=p["pv"], mode="lines", xaxis=xa, yaxis=ya,
                             line=dict(color=RED, width=3.2, dash="8px,7px", shape="spline")))

    axcommon = dict(showgrid=True, gridcolor="#dcdcdc", gridwidth=1, zeroline=False,
                    showline=True, linecolor="#262626", linewidth=1.3, mirror="allticks",
                    ticks="inside", ticklen=5, tickwidth=1, tickcolor="#262626", automargin=False,
                    tickfont=dict(family=FONT, size=15, color="#1a1a1a"))
    xkey = "xaxis" + ("" if p["ax"] == "1" else p["ax"])
    ykey = "yaxis" + ("" if p["ax"] == "1" else p["ax"])
    layout[xkey] = dict(axcommon, range=[x_ticks[0], x_ticks[-1]],
                        tickmode="array", tickvals=x_ticks, ticktext=[str(v) for v in x_ticks],
                        domain=[p["xdom"][0] / W, p["xdom"][1] / W], anchor=ya,
                        ticklabelstandoff=6)
    layout[ykey] = dict(axcommon, range=[p["yt"][0], p["yt"][-1]],
                        tickmode="array", tickvals=p["yt"], ticktext=[str(v) for v in p["yt"]],
                        domain=[1 - p["ydom"][1] / H, 1 - p["ydom"][0] / H], anchor=xa,
                        ticklabelstandoff=5)

annotations = []


def txt(x, y, s, size=30, bold=False, angle=0):
    annotations.append(dict(x=x / W, y=1 - y / H, xref="paper", yref="paper",
                            text=("<b>%s</b>" % s) if bold else s,
                            showarrow=False, textangle=angle, xanchor="center", yanchor="middle",
                            font=dict(family=FONT, size=size, color="black")))


def dtxt(ax, x, y, s, size=28):
    annotations.append(dict(x=x, y=y, xref="x" + ax, yref="y" + ax, text=s, showarrow=False,
                            xanchor="center", yanchor="middle",
                            font=dict(family=FONT, size=size, color="black")))


def arrow(ax, x, y, ay):
    annotations.append(dict(x=x, y=y, xref="x" + ax, yref="y" + ax, text="", showarrow=True,
                            ax=0, ay=ay, arrowhead=2, arrowsize=1.7, arrowwidth=1.3,
                            arrowcolor="black", standoff=0))


# titles
txt(352, 22, "LS05", 28, bold=True)
txt(995.7, 22, "LS05", 28, bold=True)
txt(346.5, 572, "LS06", 28, bold=True)
txt(1001, 573, "LS06", 28, bold=True)
# axis titles
txt(23, 253, "E/mm", 30, angle=-90)
txt(668, 253, "N/mm", 30, angle=-90)
txt(26, 801, "E/mm", 30, angle=-90)
txt(676, 801, "N/mm", 30, angle=-90)
txt(355, 514, "time/yr", 29)
txt(999, 514, "time/yr", 29)
txt(350, 1062, "time/yr", 29)
txt(1004, 1063, "time/yr", 29)

# panel 1 annotations
dtxt("", 2008.74, 1.4, "A")
arrow("", 2008.71, -2.8, -52)
dtxt("", 2010.99, 8.0, "B")
arrow("", 2010.96, 3.7, -54)
dtxt("", 2013.36, 7.4, "Lushan_EQ", 30)
arrow("", 2013.33, 3.2, -53)
dtxt("", 2013.51, 1.1, "C")
# panel 2
dtxt("2", 2013.31, 4.4, "Lushan_EQ", 30)
arrow("2", 2013.28, -12.5, -53)
# panel 3
dtxt("3", 2008.76, 3.5, "A")
arrow("3", 2008.72, 0.05, -53)
dtxt("3", 2011.10, -0.77, "B")
arrow("3", 2011.07, 2.84, 52)
dtxt("3", 2013.85, 11.1, "Lushan_EQ", 30)
arrow("3", 2013.32, 7.66, -52)
dtxt("3", 2013.66, 6.1, "C")
# panel 4
dtxt("4", 2013.27, -8.7, "Lushan_EQ", 30)
arrow("4", 2013.32, -17.0, -51)

# legend
for xleft, label in [(263, "original data"), (671, "LSC"), (961, "S_LSC")]:
    annotations.append(dict(x=xleft / W, y=1 - 1131 / H, xref="paper", yref="paper", text=label,
                            showarrow=False, xanchor="left", yanchor="middle",
                            font=dict(family=FONT, size=30, color="black")))
shapes = [
    dict(type="circle", xref="paper", yref="paper", x0=239 / W, x1=248 / W,
         y0=1 - 1135 / H, y1=1 - 1126 / H, line=dict(color=BLUE, width=1.1)),
    dict(type="line", xref="paper", yref="paper", x0=603 / W, x1=654 / W,
         y0=1 - 1128 / H, y1=1 - 1128 / H, line=dict(color=YELLOW, width=4)),
    dict(type="line", xref="paper", yref="paper", x0=906 / W, x1=957 / W,
         y0=1 - 1129 / H, y1=1 - 1129 / H, line=dict(color=RED, width=4)),
]

layout["annotations"] = annotations
layout["shapes"] = shapes
fig.update_layout(**layout)
fig.write_html("out.html", config={"displayModeBar": False, "staticPlot": False},
               post_script="document.body.style.margin='0';document.body.style.padding='0';"
                           "document.body.style.overflow='hidden';")
